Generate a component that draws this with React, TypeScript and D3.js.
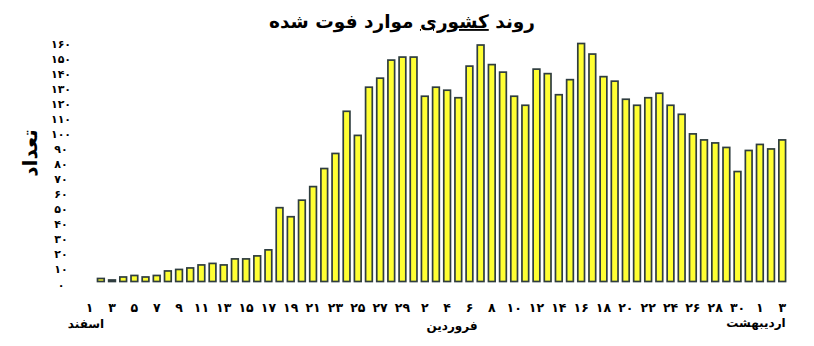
import React from "react";
import * as d3 from "d3";

// Day of month for each bar (Esfand 1..29, Farvardin 1..31, Ordibehesht 1..3)
const dayNumbers = [
  1, 2, 3, 4, 5, 6, 7, 8, 9, 10, 11, 12, 13, 14, 15, 16, 17, 18, 19, 20, 21, 22, 23, 24, 25, 26, 27, 28, 29,
  1, 2, 3, 4, 5, 6, 7, 8, 9, 10, 11, 12, 13, 14, 15, 16, 17, 18, 19, 20, 21, 22, 23, 24, 25, 26, 27, 28, 29, 30, 31,
  1, 2, 3,
];

// Daily deaths
const deaths = [
  0, 2, 1, 3, 4, 3, 4, 7, 8, 9, 11, 12, 11, 15, 15, 17, 21, 49, 43, 54, 63, 75, 85, 113, 97, 129, 135, 147, 149,
  149, 123, 129, 127, 122, 143, 157, 144, 139, 123, 117, 141, 138, 124, 134, 158, 151, 136, 133, 121, 117, 122, 125, 117, 111, 98, 94, 92, 89, 73, 87,
  91, 88, 94,
];

const yTicks = [0, 10, 20, 30, 40, 50, 60, 70, 80, 90, 100, 110, 120, 130, 140, 150, 160];
const monthLabels = ["اسفند", "فروردین", "اردیبهشت"];
const titleParts = ["روند ", "کشوری", " موارد فوت شده"];
const yTitle = "تعداد";

const fa = (n: number) => String(n).replace(/[0-9]/g, (d) => "۰۱۲۳۴۵۶۷۸۹"[+d]);

const W = 814;
const H = 346;
const FONT = "'DejaVu Sans', sans-serif";

export default function App() {
  const idx = deaths.map((_, i) => i);
  const x = d3.scaleBand<number>().domain(idx).range([84.1, 787.8]).paddingInner(0.4).paddingOuter(0.2);
  const y = d3.scaleLinear().domain([0, 160]).range([281.5, 40.5]);
  const bw = x.bandwidth();

  return (
    <svg width={W} height={H} style={{ position: "absolute", left: 0, top: 0, background: "#fff" }}>
      <rect width={W} height={H} fill="#fff" />
      <text x={402} y={28} textAnchor="middle" direction="rtl" fontFamily={FONT} fontWeight="bold" fontSize={18.5} fill="#000">
        <tspan>{titleParts[0]}</tspan>
        <tspan style={{ textDecoration: "underline" }}>{titleParts[1]}</tspan>
        <tspan>{titleParts[2]}</tspan>
      </text>
      <text
        transform="translate(30,153) rotate(-90)"
        textAnchor="middle"
        dominantBaseline="central"
        direction="rtl"
        fontFamily={FONT}
        fontWeight="bold"
        fontSize={20}
        fill="#000"
      >
        {yTitle}
      </text>
      {yTicks.map((t) => (
        <text key={t} x={61} y={y(t) + 3.5} textAnchor="middle" dominantBaseline="central" fontFamily={FONT} fontWeight="bold" fontSize={11} fill="#000">
          {fa(t)}
        </text>
      ))}
      {deaths.map((v, i) =>
        v > 0 ? (
          <rect
            key={i}
            x={x(i)!}
            y={y(v)}
            width={bw}
            height={y(0) - y(v)}
            fill="#FFFF33"
            stroke="#2f3d3f"
            strokeWidth={1.7}
          />
        ) : null
      )}
      {idx
        .filter((i) => i % 2 === 0)
        .map((i) => (
          <text key={i} x={x(i)! + bw / 2} y={307} textAnchor="middle" dominantBaseline="central" fontFamily={FONT} fontWeight="bold" fontSize={12.5} fill="#000">
            {fa(dayNumbers[i])}
          </text>
        ))}
      <text x={86} y={324} textAnchor="middle" dominantBaseline="central" direction="rtl" fontFamily={FONT} fontWeight="bold" fontSize={12} fill="#000">
        {monthLabels[0]}
      </text>
      <text x={452} y={326} textAnchor="middle" dominantBaseline="central" direction="rtl" fontFamily={FONT} fontWeight="bold" fontSize={12} fill="#000">
        {monthLabels[1]}
      </text>
      <text x={756} y={323} textAnchor="middle" dominantBaseline="central" direction="rtl" fontFamily={FONT} fontWeight="bold" fontSize={12} fill="#000">
        {monthLabels[2]}
      </text>
    </svg>
  );
}
